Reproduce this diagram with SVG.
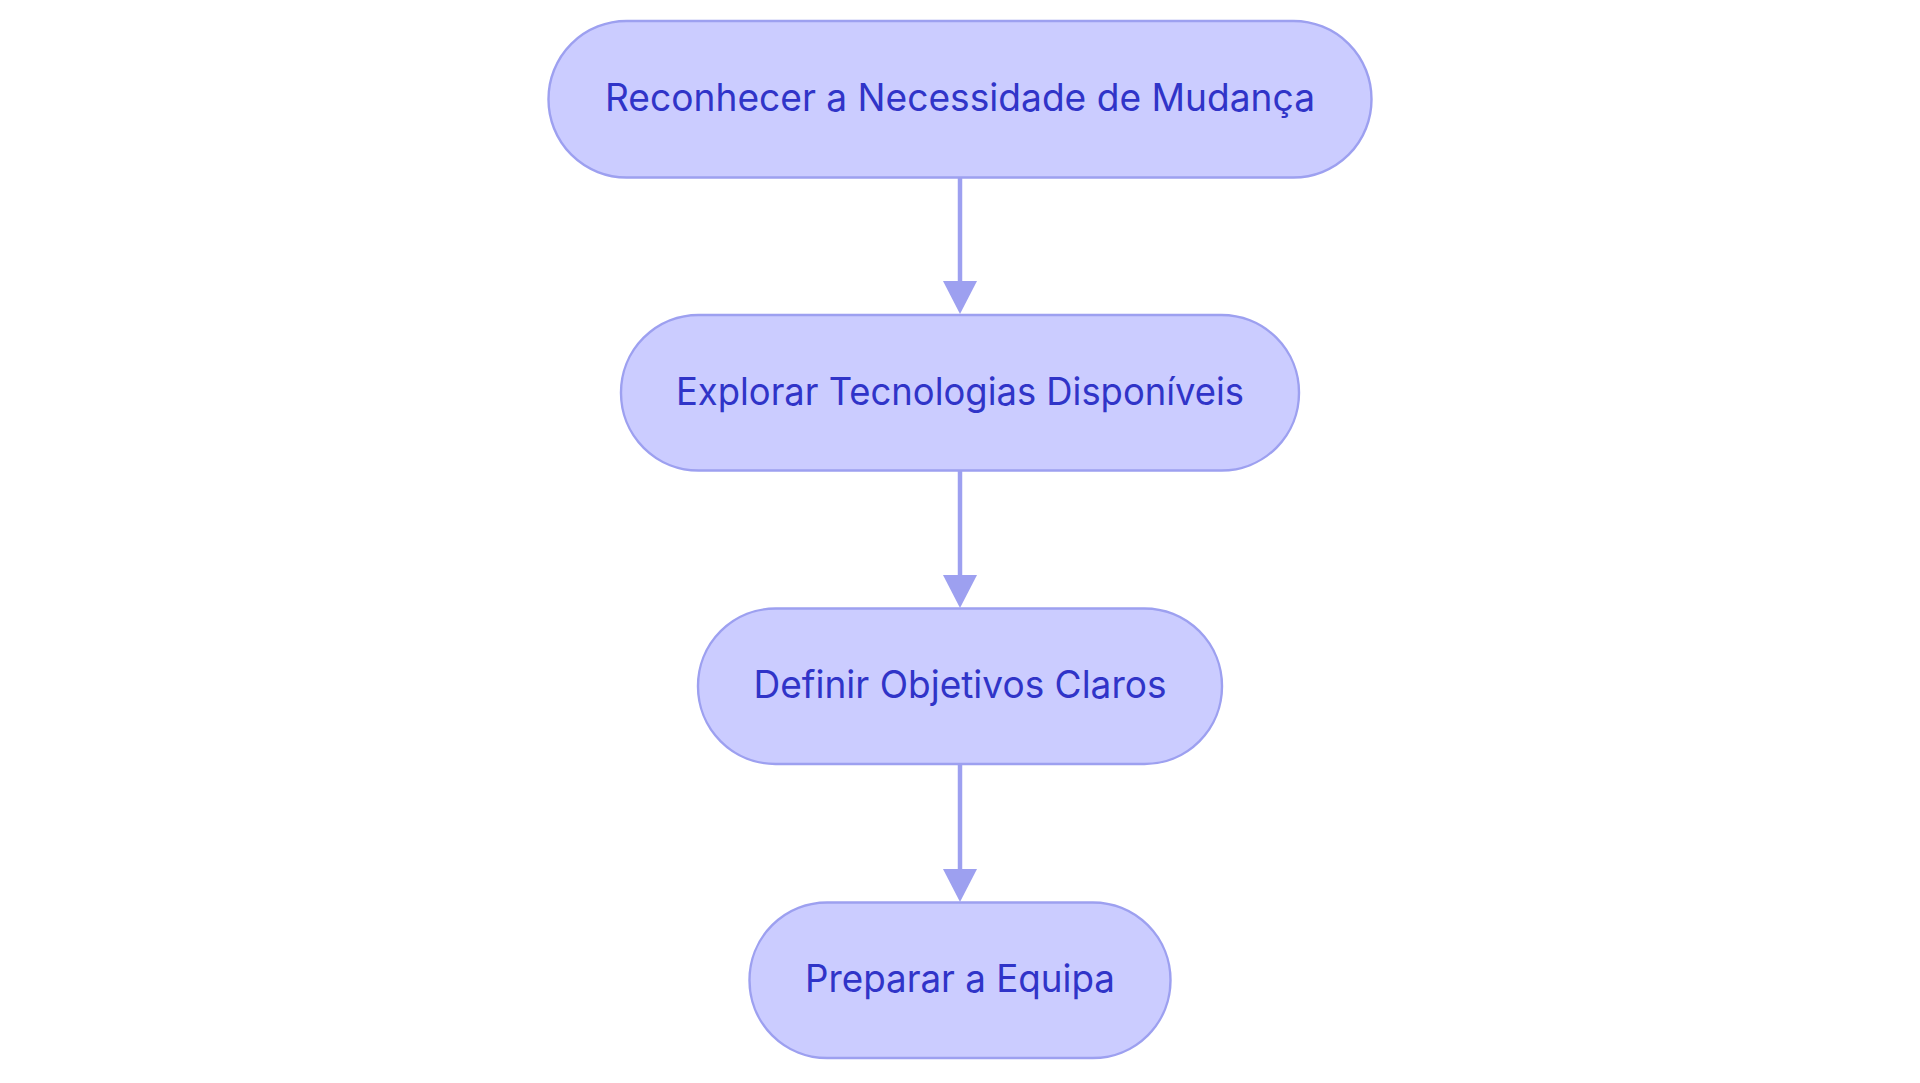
<svg xmlns="http://www.w3.org/2000/svg" width="1920" height="1083" viewBox="0 0 1920 1083">
<style>
.node rect{fill:#CBCCFF;stroke:#9DA0F0;stroke-width:2.4}
.node text{font-family:Inter,"Noto Sans","Liberation Sans",sans-serif;font-size:37.5px;font-weight:400;fill:#3034C8;text-anchor:middle}
.edge{stroke:#9DA0F0;stroke-width:4.5;fill:none}
.head{fill:#9DA0F0}
</style>
<rect width="1920" height="1083" fill="#FFFFFF"/>
<g id="connectors">
<line class="edge" x1="960" y1="178" x2="960" y2="282" />
<path class="head" d="M943,281 L977,281 L960,314 Z"/>
<line class="edge" x1="960" y1="471" x2="960" y2="576" />
<path class="head" d="M943,575 L977,575 L960,608 Z"/>
<line class="edge" x1="960" y1="764" x2="960" y2="870" />
<path class="head" d="M943,869 L977,869 L960,902 Z"/>
</g>
<g id="node1" class="node">
<rect x="548.5" y="21" width="823" height="156.5" rx="78" ry="78"/>
<text x="960" y="111" textLength="710" lengthAdjust="spacingAndGlyphs">Reconhecer a Necessidade de Mudança</text>
</g>
<g id="node2" class="node">
<rect x="621" y="315" width="678" height="155.5" rx="77.5" ry="77.5"/>
<text x="960" y="405" textLength="568" lengthAdjust="spacingAndGlyphs">Explorar Tecnologias Disponíveis</text>
</g>
<g id="node3" class="node">
<rect x="698" y="608.5" width="524" height="155.5" rx="77.5" ry="77.5"/>
<text x="960" y="698" textLength="413" lengthAdjust="spacingAndGlyphs">Definir Objetivos Claros</text>
</g>
<g id="node4" class="node">
<rect x="749.5" y="902.5" width="421" height="155.5" rx="77.5" ry="77.5"/>
<text x="960" y="992" textLength="310" lengthAdjust="spacingAndGlyphs">Preparar a Equipa</text>
</g>
</svg>
